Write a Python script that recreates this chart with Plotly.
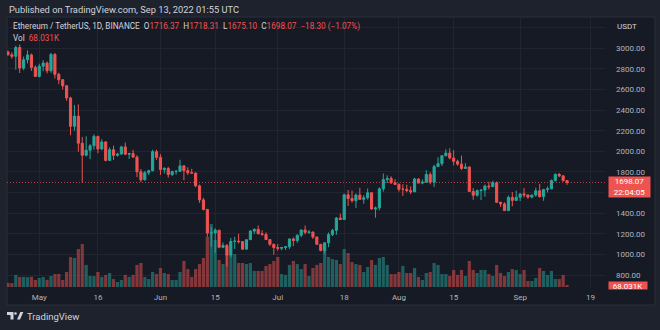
import pandas as pd
import plotly.graph_objects as go

W, H = 660, 330

# ---- ETH/USDT daily candles, Binance ----
dates = pd.date_range("2022-04-23", "2022-09-13", freq="D")

open_apr = [2964.8, 2937.0, 2922.0, 3008.0, 2808.0, 2889.0, 2936.0, 2815.0]
high_apr = [2978.5, 2960.0, 3025.0, 3038.0, 2920.0, 2980.0, 2950.0, 2835.0]
low_apr = [2930.0, 2899.9, 2793.0, 2760.0, 2787.0, 2853.0, 2781.0, 2725.0]
close_apr = [2937.0, 2922.0, 3008.0, 2808.0, 2889.0, 2936.0, 2815.0, 2727.0]

open_may = [2727, 2826, 2857, 2782, 2940, 2748, 2695, 2636, 2518, 2243, 2342, 2079, 1962, 2011, 2054, 2145,
            2023, 2091, 1912, 2016, 1961, 1974, 2043, 1972, 1978, 1944, 1802, 1724, 1793, 1812, 1997]
high_may = [2850, 2885, 2872, 2955, 2955, 2762, 2701, 2642, 2530, 2450, 2455, 2140, 2146, 2070, 2165, 2152,
            2117, 2099, 2040, 2056, 1986, 2055, 2086, 1986, 2015, 1963, 1829, 1810, 1822, 2015, 2016]
low_may = [2718, 2778, 2757, 2762, 2707, 2652, 2601, 2490, 2155, 2200, 1997, 1700, 1951, 1925, 2016, 1982,
           2011, 1903, 1906, 1915, 1949, 1967, 1964, 1926, 1937, 1750, 1702, 1716, 1770, 1806, 1917]
close_may = [2826, 2857, 2782, 2940, 2748, 2695, 2636, 2518, 2243, 2342, 2079, 1962, 2011, 2054, 2145, 2023,
             2091, 1912, 2016, 1961, 1974, 2043, 1972, 1978, 1944, 1802, 1724, 1793, 1812, 1997, 1942]

open_jun = [1942, 1823, 1834, 1775, 1804, 1806, 1859, 1813, 1793, 1789, 1665, 1529, 1437, 1207, 1208,
            1235, 1069, 1087, 993, 1126, 1128, 1124, 1051, 1143, 1226, 1243, 1200, 1193, 1144, 1098]
high_jun = [1973, 1846, 1850, 1812, 1820, 1918, 1864, 1845, 1831, 1794, 1678, 1549, 1440, 1264, 1255,
            1237, 1115, 1101, 1160, 1170, 1200, 1130, 1143, 1237, 1252, 1280, 1235, 1214, 1147, 1104]
low_jun = [1771, 1785, 1745, 1760, 1775, 1800, 1721, 1770, 1783, 1652, 1500, 1426, 1170, 1075, 1015,
           1060, 1060, 880, 970, 1052, 1106, 1043, 1048, 1140, 1198, 1195, 1181, 1142, 1082, 996]
close_jun = [1823, 1834, 1775, 1804, 1806, 1859, 1813, 1793, 1789, 1665, 1529, 1437, 1207, 1208, 1235,
             1069, 1087, 993, 1126, 1128, 1124, 1051, 1143, 1226, 1243, 1200, 1193, 1144, 1098, 1067]

open_jul = [1067, 1059, 1067, 1074, 1150, 1134, 1186, 1237, 1214, 1217, 1169, 1098, 1038, 1113, 1192, 1233,
            1353, 1338, 1578, 1542, 1521, 1576, 1534, 1549, 1598, 1440, 1451, 1636, 1726, 1737, 1695]
high_jul = [1100, 1073, 1079, 1153, 1164, 1192, 1240, 1280, 1235, 1221, 1171, 1100, 1115, 1213, 1248, 1363,
            1395, 1590, 1625, 1619, 1590, 1646, 1575, 1640, 1603, 1465, 1650, 1785, 1767, 1758, 1730]
low_jul = [1036, 1040, 1042, 1053, 1080, 1113, 1168, 1195, 1199, 1150, 1090, 1030, 1006, 1070, 1178, 1190,
           1334, 1337, 1470, 1503, 1451, 1528, 1491, 1532, 1436, 1356, 1428, 1609, 1692, 1683, 1674]
close_jul = [1059, 1067, 1074, 1150, 1134, 1186, 1237, 1214, 1217, 1169, 1098, 1038, 1113, 1192, 1233, 1353,
             1338, 1578, 1542, 1521, 1576, 1534, 1549, 1598, 1440, 1451, 1636, 1726, 1737, 1695, 1679]

open_aug = [1679, 1632, 1632, 1619, 1607, 1732, 1692, 1701, 1776, 1701, 1852, 1881, 1958, 1983, 1935, 1903,
            1876, 1834, 1848, 1611, 1574, 1619, 1624, 1663, 1657, 1696, 1506, 1490, 1425, 1553, 1524]
high_aug = [1690, 1681, 1677, 1660, 1743, 1738, 1727, 1817, 1797, 1870, 1943, 1960, 2020, 2030, 2012, 1919,
            1959, 1885, 1853, 1645, 1630, 1630, 1678, 1705, 1715, 1708, 1509, 1506, 1572, 1605, 1619]
low_aug = [1610, 1567, 1603, 1586, 1605, 1690, 1680, 1699, 1680, 1655, 1850, 1858, 1950, 1922, 1864, 1860,
           1820, 1833, 1606, 1530, 1560, 1527, 1560, 1630, 1654, 1500, 1460, 1424, 1422, 1467, 1520]
close_aug = [1632, 1632, 1619, 1607, 1732, 1692, 1701, 1776, 1701, 1852, 1881, 1958, 1983, 1935, 1903, 1876,
             1834, 1848, 1611, 1574, 1619, 1624, 1663, 1657, 1696, 1506, 1490, 1425, 1553, 1524, 1554]

open_sep = [1554, 1586, 1577, 1556, 1576, 1617, 1560, 1630, 1636, 1718, 1777, 1762, 1716.37]
high_sep = [1594, 1643, 1579, 1579, 1648, 1684, 1636, 1660, 1726, 1785, 1790, 1768, 1718.31]
low_sep = [1518, 1553, 1539, 1544, 1560, 1554, 1520, 1601, 1633, 1706, 1750, 1705, 1675.10]
close_sep = [1586, 1577, 1556, 1576, 1617, 1560, 1630, 1636, 1718, 1777, 1762, 1716.37, 1698.07]

# daily volume, thousands of ETH
volume_k = [
    140, 130, 410, 340, 345, 335, 350, 240,
    305, 340, 245, 375, 440, 445, 240, 510, 1020, 985, 1290, 1460, 750, 375, 370, 510,
    340, 410, 475, 270, 170, 240, 410, 340, 410, 750, 815, 340, 270, 510, 440,
    645, 475, 440, 240, 240, 510, 885, 610, 340, 610, 780, 985, 1700, 2140, 1600,
    920, 780, 1120, 1090, 1120, 815, 815, 780, 815, 545, 545, 545, 715, 780, 885,
    1020, 440, 410, 750, 885, 780, 610, 780, 375, 645, 750, 815, 1290, 1020, 950,
    920, 780, 1290, 1155, 850, 780, 750, 510, 680, 920, 750, 985, 1020, 750, 440,
    440, 510, 715, 475, 475, 645, 340, 240, 475, 510, 815, 750, 440, 440, 375,
    580, 410, 580, 375, 885, 580, 475, 580, 580, 440, 375, 750, 475, 375, 510,
    610, 580, 440, 580, 205, 205, 305, 645, 545, 410, 545, 270, 270, 410, 68.031,
]

opens = open_apr + open_may + open_jun + open_jul + open_aug + open_sep
highs = high_apr + high_may + high_jun + high_jul + high_aug + high_sep
lows = low_apr + low_may + low_jun + low_jul + low_aug + low_sep
closes = close_apr + close_may + close_jun + close_jul + close_aug + close_sep

price_ticks = [800, 1000, 1200, 1400, 1600, 1800, 2000, 2200, 2400, 2600, 2800, 3000, 3200]
price_tick_text = ["800.00", "1000.00", "1200.00", "1400.00", "", "1800.00", "2000.00",
                   "2200.00", "2400.00", "2600.00", "2800.00", "3000.00", ""]
time_ticks = ["2022-05-01", "2022-05-16", "2022-06-01", "2022-06-15", "2022-07-01",
              "2022-07-18", "2022-08-01", "2022-08-15", "2022-09-01", "2022-09-19"]
time_tick_text = ["May", "16", "Jun", "15", "Jul", "18", "Aug", "15", "Sep", "19"]

# ---- styling ----
OUTER = "#1e222d"
CHART = "#161a25"
GRID = "#21252f"
BORDER = "#2a2e39"
TXT = "#b2b5be"
TXT_HI = "#d1d4dc"
UP = "#26a69a"
DOWN = "#ef5350"
UP_VOL = "rgba(38,166,154,0.5)"
DOWN_VOL = "rgba(239,83,80,0.5)"
FONT = "Roboto"

PLOT_L, PLOT_R, PLOT_T, PLOT_B = 7, 605, 17, 287


def px(x):
    return x / W


def py(y):
    return 1 - y / H


vol_colors = [UP_VOL if c >= o else DOWN_VOL for o, c in zip(opens, closes)]

fig = go.Figure()
fig.add_trace(go.Bar(
    x=dates, y=volume_k, marker=dict(color=vol_colors, line=dict(width=0)),
    yaxis="y", hoverinfo="skip",
))
fig.add_trace(go.Candlestick(
    x=dates, open=opens, high=highs, low=lows, close=closes, yaxis="y2",
    increasing=dict(line=dict(color=UP, width=1), fillcolor=UP),
    decreasing=dict(line=dict(color=DOWN, width=1), fillcolor=DOWN),
    whiskerwidth=0,
))

# pixel mapping of the price scale: 3000 at y=48.3, 800 at y=275
ppx = (275.0 - 48.3) / 2200.0
price_top = 3000 + (48.3 - PLOT_T) / ppx
price_bot = 3000 - (PLOT_B - 48.3) / ppx
vol_top = max(volume_k) * (PLOT_B - PLOT_T) / 63.0

last_close = closes[-1]
last_vol = volume_k[-1]

fig.update_layout(
    width=W, height=H,
    margin=dict(l=0, r=0, t=0, b=0),
    paper_bgcolor=OUTER, plot_bgcolor="rgba(0,0,0,0)",
    showlegend=False, bargap=0.18, boxgap=0.22,
    font=dict(family=FONT, size=8, color=TXT),
    xaxis=dict(
        type="date", domain=[px(PLOT_L), px(PLOT_R)],
        range=["2022-04-22 18:00", "2022-09-22 17:00"],
        tickvals=time_ticks, ticktext=time_tick_text,
        showgrid=True, gridcolor=GRID, gridwidth=1, zeroline=False, showline=False,
        ticks="", tickfont=dict(family=FONT, size=8, color=TXT),
        rangeslider=dict(visible=False), ticklabelstandoff=4,
    ),
    yaxis=dict(
        domain=[py(PLOT_B), py(PLOT_T)], range=[0, vol_top],
        visible=False, showgrid=False, zeroline=False,
    ),
    yaxis2=dict(
        overlaying="y", side="right", anchor="x",
        range=[price_bot, price_top],
        tickvals=price_ticks, ticktext=price_tick_text,
        showgrid=True, gridcolor=GRID, gridwidth=1, zeroline=False, showline=False,
        ticks="", tickfont=dict(family=FONT, size=8, color=TXT),
        ticklabelstandoff=10,
    ),
)

shapes = [
    # chart panel
    dict(type="rect", xref="paper", yref="paper", layer="below",
         x0=px(PLOT_L), x1=px(655), y0=py(305), y1=py(PLOT_T),
         fillcolor=CHART, line=dict(color=BORDER, width=1)),
    # last price line
    dict(type="line", xref="paper", yref="y2", x0=px(PLOT_L), x1=px(PLOT_R),
         y0=last_close, y1=last_close,
         line=dict(color="rgba(239,83,80,0.75)", width=1, dash="1px,2px")),
    # TradingView logo
    dict(type="path", xref="paper", yref="paper", fillcolor=TXT_HI, line=dict(width=0),
         path=f"M {px(7)},{py(312)} L {px(13.5)},{py(312)} L {px(13.5)},{py(319.5)} "
              f"L {px(10.5)},{py(319.5)} L {px(10.5)},{py(315)} L {px(7)},{py(315)} Z"),
    dict(type="circle", xref="paper", yref="paper", fillcolor=TXT_HI, line=dict(width=0),
         x0=px(14.2), x1=px(16.8), y0=py(314.8), y1=py(312.2)),
    dict(type="path", xref="paper", yref="paper", fillcolor=TXT_HI, line=dict(width=0),
         path=f"M {px(17)},{py(319.5)} L {px(20.3)},{py(312)} L {px(23.3)},{py(312)} "
              f"L {px(20)},{py(319.5)} Z"),
]

red = f"color:{DOWN}"
legend_line = (
    f"Ethereum / TetherUS, 1D, BINANCE  "
    f"O<span style='{red}'>{opens[-1]:.2f}</span>  "
    f"H<span style='{red}'>{highs[-1]:.2f}</span>  "
    f"L<span style='{red}'>{lows[-1]:.2f}</span>  "
    f"C<span style='{red}'>{last_close:.2f}</span>  "
    f"<span style='{red}'>\u221218.30 (\u22121.07%)</span>"
)

annotations = [
    dict(text="Published on TradingView.com, Sep 13, 2022 01:55 UTC",
         x=px(7), y=py(9.5), xanchor="left", yanchor="middle",
         font=dict(family=FONT, size=9.3, color=TXT_HI)),
    dict(text=legend_line, x=px(11), y=py(26.5), xanchor="left", yanchor="middle",
         font=dict(family=FONT, size=8.2, color=TXT_HI)),
    dict(text=f"Vol  <span style='{red}'>{last_vol:.3f}K</span>",
         x=px(11), y=py(38.3), xanchor="left", yanchor="middle",
         font=dict(family=FONT, size=8.2, color=TXT_HI)),
    dict(text="USDT", x=px(615), y=py(26.7), xanchor="left", yanchor="middle",
         font=dict(family=FONT, size=8, color=TXT_HI)),
    dict(text=f"{last_close:.2f}<br>22:04:05", x=px(629.5), y=py(187), xanchor="center",
         yanchor="middle", bgcolor=DOWN, width=41, height=20, borderpad=0,
         font=dict(family=FONT, size=8, color="#ffffff")),
    dict(text=f"{last_vol:.3f}K", x=px(628), y=py(285.5), xanchor="center", yanchor="middle",
         bgcolor=DOWN, width=38, height=7, valign="top", borderpad=0,
         font=dict(family=FONT, size=8, color="#ffffff")),
    dict(text="TradingView", x=px(24.5), y=py(316), xanchor="left", yanchor="middle",
         font=dict(family=FONT, size=9.5, color=TXT_HI)),
]

for a in annotations:
    a.setdefault("xref", "paper")
    a.setdefault("yref", "paper")
    a.setdefault("showarrow", False)

fig.update_layout(shapes=shapes, annotations=annotations)

fig.write_html("out.html")
